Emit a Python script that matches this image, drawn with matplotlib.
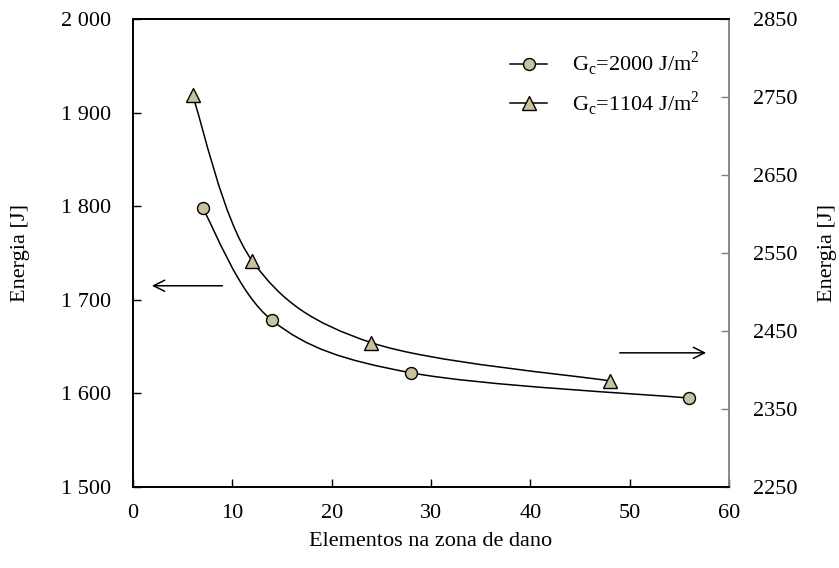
import numpy as np
import matplotlib
matplotlib.use("Agg")
import matplotlib.pyplot as plt
from matplotlib.path import Path
from matplotlib.patches import PathPatch
from matplotlib.lines import Line2D

plt.rcParams['font.family'] = ['Liberation Serif', 'DejaVu Serif']
plt.rcParams['mathtext.fontset'] = 'custom'
plt.rcParams['mathtext.rm'] = 'Liberation Serif'

# data
x_gc2000 = [7, 14, 28, 56]
e_gc2000 = [1798, 1678, 1622, 1595]      # left axis
x_gc1104 = [6, 12, 24, 48]
e_gc1104 = [2752, 2540, 2435, 2386]      # right axis

label_gc2000 = r'G$_\mathregular{c}$=2000 J/m$^\mathregular{2}$'
label_gc1104 = r'G$_\mathregular{c}$=1104 J/m$^\mathregular{2}$'

xticks = [0, 10, 20, 30, 40, 50, 60]
left_ticks = [1500, 1600, 1700, 1800, 1900, 2000]
left_ticklabels = ['1 500', '1 600', '1 700', '1 800', '1 900', '2 000']
right_ticks = [2250, 2350, 2450, 2550, 2650, 2750, 2850]

xlabel = 'Elementos na zona de dano'
ylabel = 'Energia [J]'

face = '#CAC29E'
FS = 16


def smooth_path(xs, ys):
    p = np.column_stack([xs, ys]).astype(float)
    n = len(p)
    verts = [p[0]]
    codes = [Path.MOVETO]
    for i in range(n - 1):
        p0 = p[i - 1] if i > 0 else p[i]
        p1 = p[i]
        p2 = p[i + 1]
        p3 = p[i + 2] if i + 2 < n else p[i + 1]
        c1 = p1 + (p2 - p0) / 6.0
        c2 = p2 - (p3 - p1) / 6.0
        verts += [c1, c2, p2]
        codes += [Path.CURVE4] * 3
    return Path(verts, codes)


fig = plt.figure(figsize=(8.39, 5.68), dpi=100)
ax = fig.add_axes([133 / 839, 1 - 487 / 568, (729 - 133) / 839, (487 - 19) / 568])
ax2 = ax.twinx()

ax.add_patch(PathPatch(smooth_path(x_gc2000, e_gc2000), fill=False, lw=1.1, color='black'))
ax.plot(x_gc2000, e_gc2000, 'o', ms=8.6, mfc=face, mec='black', mew=1.0, zorder=5)
ax2.add_patch(PathPatch(smooth_path(x_gc1104, e_gc1104), fill=False, lw=1.1, color='black'))
ax2.plot(x_gc1104, e_gc1104, '^', ms=9.6, mfc=face, mec='black', mew=1.0, zorder=5)

ax.set_xlim(0, 60)
ax.set_ylim(1500, 2000)
ax2.set_ylim(2250, 2850)
ax.set_xticks(xticks)
ax.set_yticks(left_ticks)
ax.set_yticklabels(left_ticklabels)
ax2.set_yticks(right_ticks)

ax.tick_params(axis='x', direction='in', length=6, width=1, labelsize=FS, pad=12)
ax.tick_params(axis='y', direction='in', length=6, width=1, labelsize=FS, pad=16)
ax2.tick_params(axis='y', direction='in', length=6, width=1, color='#808080', labelsize=FS, pad=17)
for s in ['left', 'bottom', 'top']:
    ax.spines[s].set_linewidth(1.3)
    ax2.spines[s].set_linewidth(1.3)
ax2.spines['right'].set_color('#808080')
ax2.spines['right'].set_linewidth(1.3)
ax.spines['right'].set_visible(False)

ax.set_xlabel(xlabel, fontsize=FS, labelpad=7)
ax.set_ylabel(ylabel, fontsize=FS, labelpad=22)
ax2.set_ylabel(ylabel, fontsize=FS, labelpad=15)

# arrows
ax.annotate('', xy=(1.9, 1715), xytext=(9.0, 1715),
            arrowprops=dict(arrowstyle='->', lw=1.1, color='black', mutation_scale=20,
                            shrinkA=0, shrinkB=0))
ax2.annotate('', xy=(57.7, 2422), xytext=(49.0, 2422),
             arrowprops=dict(arrowstyle='->', lw=1.1, color='black', mutation_scale=20,
                             shrinkA=0, shrinkB=0))

h1 = Line2D([], [], color='black', lw=1.1, marker='o', ms=8.6, mfc=face, mec='black')
h2 = Line2D([], [], color='black', lw=1.1, marker='^', ms=9.6, mfc=face, mec='black')
leg = ax.legend([h1, h2], [label_gc2000, label_gc1104], loc='upper left',
                bbox_to_anchor=((510 - 133) / 596, (487 - 50) / 468), frameon=False,
                fontsize=FS, handlelength=1.67, handletextpad=1.1, labelspacing=0.5,
                borderpad=0, borderaxespad=0)

fig.savefig('out.png', dpi=100)
